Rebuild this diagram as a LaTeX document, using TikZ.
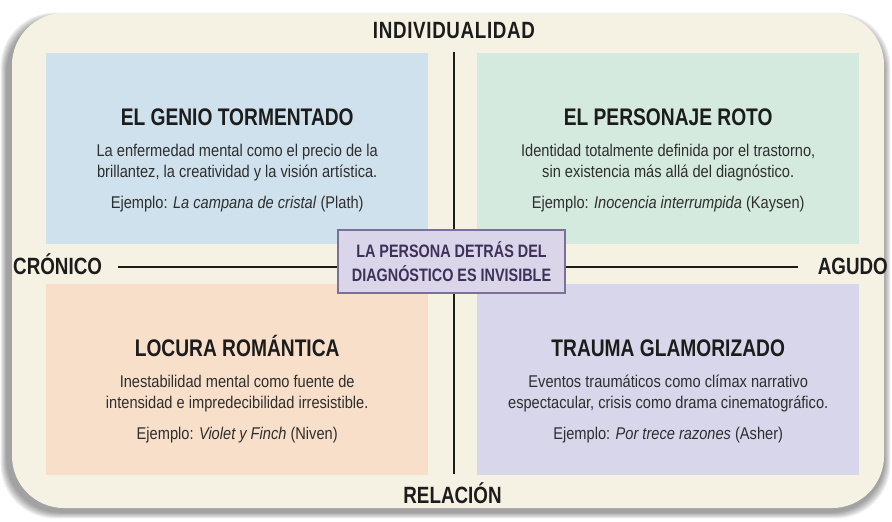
\documentclass[tikz,border=0pt]{standalone}
\usepackage{fontspec}
\setmainfont{Liberation Sans}[FakeStretch=0.86]
\newfontfamily\estrecha{Liberation Sans}[FakeStretch=0.8]
\usetikzlibrary{calc}

\definecolor{crema}{HTML}{F6F2E3}
\definecolor{azul}{HTML}{CFE1EC}
\definecolor{verde}{HTML}{D4EADF}
\definecolor{melocoton}{HTML}{F8DFCA}
\definecolor{lila}{HTML}{D8D6EA}
\definecolor{lilafondo}{HTML}{DAD5E9}
\definecolor{lilaborde}{HTML}{7B7097}
\definecolor{lilatexto}{HTML}{3C3159}
\definecolor{tinta}{HTML}{1C1C1C}

% name (x,y) color title line1 line2 example
\def\cuadrante#1(#2,#3)#4#5#6#7#8{%
	\node[cuadro, fill=#4] (#1) at (#2,#3) {};
	\node[titulo] (#1-t) at ($(#1.north)+(0,72)$) {#5};
	\node[texto] (#1-a) at ($(#1.north)+(0,103)$) {#6};
	\node[texto] (#1-b) at ($(#1.north)+(0,124)$) {#7};
	\node[texto] (#1-e) at ($(#1.north)+(0,155)$) {#8};
}

\begin{document}
\begin{tikzpicture}[x=1pt, y=-1pt,
	cuadro/.style={anchor=north west, minimum width=382pt, minimum height=191pt, inner sep=0pt},
	titulo/.style={anchor=base, inner sep=0pt, text=tinta, font=\estrecha\bfseries\fontsize{24}{28}\selectfont},
	texto/.style={anchor=base, inner sep=0pt, text=tinta!92, font=\fontsize{17}{20}\selectfont},
	eje/.style={inner sep=0pt, text height=16.8pt, text depth=0pt, text=tinta, font=\estrecha\bfseries\fontsize{23.5}{28}\selectfont},
	linea/.style={line width=2pt, draw=tinta},
	centro/.style={draw=lilaborde, line width=1.2pt, fill=lilafondo, text=lilatexto, align=center,
		minimum width=227pt, minimum height=63pt, inner sep=0pt, font=\estrecha\bfseries\fontsize{18}{23.5}\selectfont}]
	%%%%% START %%%%%
	
	\useasboundingbox (0,0) rectangle (892,522);
	
	% shadow and background
	\foreach \s in {1,...,8}
		\fill[black, opacity=0.055, rounded corners=54pt] (7-0.8*\s, 19-0.8*\s) rectangle (884+0.8*\s, 512+0.8*\s);
	\fill[crema, rounded corners=52pt] (12,13) rectangle (884,508);
	
	% quadrants
	\cuadrante{genio}(46,53){azul}{EL GENIO TORMENTADO}
		{La enfermedad mental como el precio de la}
		{brillantez, la creatividad y la visión artística.}
		{Ejemplo: \textit{La campana de cristal} (Plath)}
	\cuadrante{roto}(477,53){verde}{EL PERSONAJE ROTO}
		{Identidad totalmente definida por el trastorno,}
		{sin existencia más allá del diagnóstico.}
		{Ejemplo: \textit{Inocencia interrumpida} (Kaysen)}
	\cuadrante{locura}(46,284){melocoton}{LOCURA ROMÁNTICA}
		{Inestabilidad mental como fuente de}
		{intensidad e impredecibilidad irresistible.}
		{Ejemplo: \textit{Violet y Finch} (Niven)}
	\cuadrante{trauma}(477,284){lila}{TRAUMA GLAMORIZADO}
		{Eventos traumáticos como clímax narrativo}
		{espectacular, crisis como drama cinematográfico.}
		{Ejemplo: \textit{Por trece razones} (Asher)}
	
	% axes
	\node[eje] (indiv) at (454,30.5) {\addfontfeature{LetterSpace=2.8}INDIVIDUALIDAD};
	\node[eje] (relacion) at (452.5,495) {RELACIÓN};
	\node[eje, anchor=west] (cronico) at (13,266.5) {CRÓNICO};
	\node[eje, anchor=east] (agudo) at (888,266.5) {AGUDO};
	
	\node[centro] (centro) at (451.5,261.5) {LA PERSONA DETRÁS DEL\\DIAGNÓSTICO ES INVISIBLE};
	
	\draw[linea, shorten <=13pt] (indiv.south) -- (indiv.south |- centro.north);
	\draw[linea, shorten >=12pt] (indiv.south |- centro.south) -- (indiv.south |- relacion.north);
	\draw[linea, shorten <=16pt] (cronico.east) -- (cronico.east -| centro.west);
	\draw[linea, shorten >=20pt] (agudo.west -| centro.east) -- (agudo.west);
	
	%%%%% END %%%%%
\end{tikzpicture}
\end{document}
